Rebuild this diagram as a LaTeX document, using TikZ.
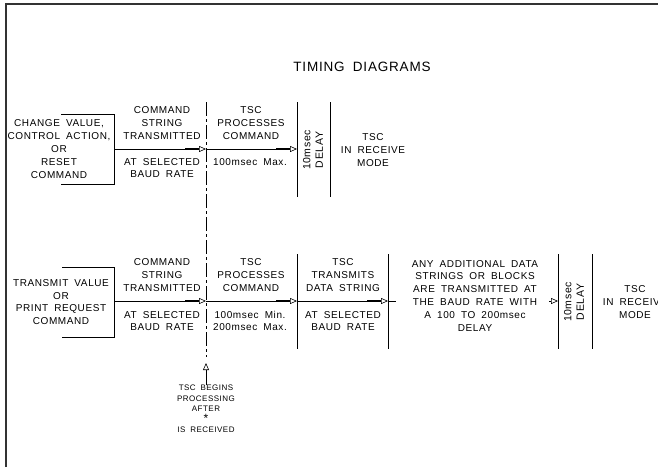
\documentclass[tikz,border=0pt]{standalone}
\usepackage{fontspec}
\setmainfont{Liberation Sans}
\newfontfamily\cadfont[LetterSpace=6,WordSpace=1.8]{Liberation Sans}
\usetikzlibrary{arrows.meta}

\begin{document}
\begin{tikzpicture}[
    x=1pt, y=-1pt,
    %% Text labels
    lbl/.style  = {font=\cadfont\fontsize{10}{12.8}\selectfont, align=center, inner sep=0pt},
    note/.style = {font=\cadfont\fontsize{8}{10.5}\selectfont, align=center, inner sep=0pt},
    ttl/.style  = {font=\cadfont\fontsize{13.5}{16}\selectfont, inner sep=0pt},
    %% Lines
    frame/.style   = {line width=1.6pt, black!80},
    bracket/.style = {line width=0.7pt},
    sepline/.style = {line width=0.8pt},
    dashsep/.style = {line width=0.7pt, dash pattern=on 14pt off 3pt on 3pt off 3pt},
    %% Arrows
    arr/.style  = {-{Rectangle[length=14pt,width=1.8pt,sep=0pt]Triangle[open,length=7pt,width=6pt,sep=0pt]}, line width=0.6pt},
    sarr/.style = {-{Triangle[open,length=7pt,width=6pt]}, line width=0.6pt},
  ]
    \useasboundingbox (0,0) rectangle (658,467);

    %% ── Sheet frame ────────────────────────────────────────────────────────
    \draw[frame] (6,467) -- (6,4) -- (658,4);
    \node[ttl] (title) at (362,67) {TIMING DIAGRAMS};

    %% ── Upper timing line ──────────────────────────────────────────────────
    \node[lbl] (U0) at (59,149) {CHANGE VALUE,\\CONTROL ACTION,\\OR\\RESET\\COMMAND};
    \draw[bracket] (61,114) -- (114,114) -- (114,184) -- (61,184);

    \node[lbl] (U1a) at (162,123) {COMMAND\\STRING\\TRANSMITTED};
    \node[lbl] (U1b) at (162,168) {AT SELECTED\\BAUD RATE};
    \node[lbl] (U2a) at (251,123) {TSC\\PROCESSES\\COMMAND};
    \node[lbl] (U2b) at (250,162) {100msec Max.};
    \node[lbl, rotate=90, font=\cadfont\fontsize{10.5}{12.5}\selectfont] (U3) at (313,150) {10msec\\DELAY};
    \node[lbl] (U4) at (373,150) {TSC\\IN RECEIVE\\MODE};

    \coordinate (ua0) at (114,149);
    \coordinate (ua1) at (206,149);
    \coordinate (ua2) at (297,149);
    \draw[arr] (ua0) -- (ua1);
    \draw[arr] (ua1) -- (ua2);

    \draw[sepline] (297,102) -- (297,197);
    \draw[sepline] (330,102) -- (330,197);

    %% ── Lower timing line ──────────────────────────────────────────────────
    \node[lbl] (L0) at (61,302) {TRANSMIT VALUE\\OR\\PRINT REQUEST\\COMMAND};
    \draw[bracket] (62,267) -- (114,267) -- (114,337) -- (62,337);

    \node[lbl] (L1a) at (162,275) {COMMAND\\STRING\\TRANSMITTED};
    \node[lbl] (L1b) at (162,321) {AT SELECTED\\BAUD RATE};
    \node[lbl] (L2a) at (251,275) {TSC\\PROCESSES\\COMMAND};
    \node[lbl] (L2b) at (250,321) {100msec Min.\\200msec Max.};
    \node[lbl] (L3a) at (343,275) {TSC\\TRANSMITS\\DATA STRING};
    \node[lbl] (L3b) at (343,321) {AT SELECTED\\BAUD RATE};
    \node[lbl] (L4) at (475,295.5) {ANY ADDITIONAL DATA\\STRINGS OR BLOCKS\\ARE TRANSMITTED AT\\THE BAUD RATE WITH\\A 100 TO 200msec\\DELAY};
    \node[lbl, rotate=90, font=\cadfont\fontsize{10.5}{12.5}\selectfont] (L5) at (574,302) {10msec\\DELAY};
    \node[lbl] (L6) at (635,302) {TSC\\IN RECEIVE\\MODE};

    \coordinate (la0) at (114,301);
    \coordinate (la1) at (206,301);
    \coordinate (la2) at (297,301);
    \coordinate (la3) at (388,301);
    \coordinate (la4) at (396,301);
    \coordinate (la5) at (549,301);
    \coordinate (la6) at (558,301);
    \draw[arr] (la0) -- (la1);
    \draw[arr] (la1) -- (la2);
    \draw[arr] (la2) -- (la3);
    \draw[line width=0.6pt] (la3) -- (la4);
    \draw[sarr] (la5) -- (la6);

    \foreach \xx in {297,388,558,592}
      \draw[sepline] (\xx,254) -- (\xx,349);

    %% ── Start of processing marker ─────────────────────────────────────────
    \draw[dashsep] (206,102) -- (206,357);
    \node[note, anchor=north] (N1) at (206,385) {TSC BEGINS\\PROCESSING\\AFTER\\{\fontsize{12}{10.5}\selectfont *}\\IS RECEIVED};
    \coordinate (nt) at (206,363);
    \draw[sarr] (N1.north) -- (nt);

  \end{tikzpicture}
\end{document}
